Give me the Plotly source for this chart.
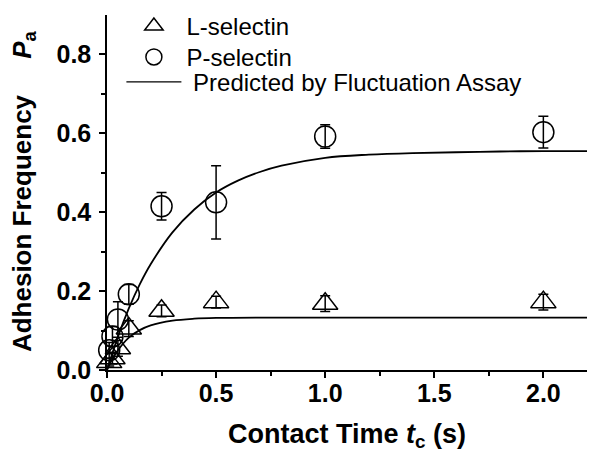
import plotly.graph_objects as go

t_L = [0.01, 0.025, 0.05, 0.1, 0.25, 0.5, 1.0, 2.0]
pa_L = [0.02, 0.03, 0.055, 0.105, 0.15, 0.172, 0.168, 0.172]
err_L = [0.01, 0.015, 0.02, 0.02, 0.015, 0.015, 0.02, 0.02]

t_P = [0.01, 0.025, 0.05, 0.1, 0.25, 0.5, 1.0, 2.0]
pa_P = [0.05, 0.085, 0.128, 0.192, 0.415, 0.425, 0.592, 0.603]
err_P = [0.02, 0.025, 0.045, 0.025, 0.035, 0.093, 0.03, 0.04]

# Predicted curves
t_fitP = [0, 0.05, 0.1, 0.15, 0.2, 0.3, 0.4, 0.5, 0.6, 0.7, 0.8, 1.0, 1.2, 1.4, 1.6, 1.8, 2.0, 2.2]
pa_fitP = [0, 0.084, 0.156, 0.217, 0.268, 0.349, 0.407, 0.450, 0.480, 0.502, 0.518, 0.538, 0.546, 0.550, 0.552, 0.554, 0.555, 0.555]
t_fitL = [0, 0.02, 0.05, 0.1, 0.15, 0.2, 0.3, 0.4, 0.5, 0.7, 1.0, 1.5, 2.0, 2.2]
pa_fitL = [0, 0.023, 0.050, 0.082, 0.101, 0.113, 0.125, 0.130, 0.132, 0.133, 0.133, 0.133, 0.133, 0.133]

x_ticks = [0.0, 0.5, 1.0, 1.5, 2.0]
y_ticks = [0.0, 0.2, 0.4, 0.6, 0.8]

FONT = "Arial, 'Liberation Sans', sans-serif"

fig = go.Figure()

fig.add_trace(go.Scatter(
    x=t_L, y=pa_L, mode="markers", name="L-selectin", legend="legend",
    marker=dict(symbol="triangle-up-open", size=22, color="black", line=dict(width=1.5, color="black")),
    error_y=dict(type="data", array=err_L, color="black", thickness=1.5, width=5),
    cliponaxis=False,
))
fig.add_trace(go.Scatter(
    x=t_P, y=pa_P, mode="markers", name="P-selectin", legend="legend2",
    marker=dict(symbol="circle-open", size=21, color="black", line=dict(width=1.5, color="black")),
    error_y=dict(type="data", array=err_P, color="black", thickness=1.5, width=5),
    cliponaxis=False,
))
fig.add_trace(go.Scatter(
    x=t_fitP, y=pa_fitP, mode="lines", showlegend=False,
    line=dict(color="black", width=1.8, shape="spline"),
))
fig.add_trace(go.Scatter(
    x=t_fitL, y=pa_fitL, mode="lines", showlegend=False,
    line=dict(color="black", width=1.8, shape="spline"),
))
# legend entry for the predicted curves
fig.add_trace(go.Scatter(
    x=[None], y=[None], mode="lines", name="\u00a0Predicted by Fluctuation Assay", legend="legend3",
    line=dict(color="black", width=1.3),
))

axis_common = dict(
    showline=True, linecolor="black", linewidth=1.5,
    ticks="outside", ticklen=6, tickwidth=1.5, tickcolor="black",
    showgrid=False, zeroline=False, mirror=False,
    tickfont=dict(family=FONT, size=25, color="black", weight="bold"),
    automargin=False,
)

fig.update_xaxes(
    range=[0, 2.2], tickvals=x_ticks, ticktext=[f"{v:.1f}" for v in x_ticks],
    minor=dict(tickvals=[0.25, 0.75, 1.25, 1.75], ticklen=4, ticks="outside", tickcolor="black", tickwidth=1.5),
    title=dict(text="Contact Time <i>t</i><sub>c</sub> (s)", font=dict(family=FONT, size=27, color="black", weight="bold"), standoff=18),
    ticklabelstandoff=-6,
    **axis_common,
)
fig.update_yaxes(
    range=[0, 0.9], tickvals=y_ticks, ticktext=[f"{v:.1f}" for v in y_ticks],
    minor=dict(tickvals=[0.1, 0.3, 0.5, 0.7], ticklen=4, ticks="outside", tickcolor="black", tickwidth=1.5),
    ticklabelstandoff=3,
    **axis_common,
)

fig.add_annotation(
    text="Adhesion Frequency" + "\u00a0" * 5 + "<i>P</i><sub>a</sub>",
    xref="paper", yref="paper", x=-0.175, y=0.504, xanchor="center", yanchor="middle",
    textangle=-90, showarrow=False,
    font=dict(family=FONT, size=26, color="black", weight="bold"),
)

leg_common = dict(
    x=0.03, xanchor="left", yanchor="top",
    bgcolor="rgba(0,0,0,0)", borderwidth=0,
    font=dict(family=FONT, size=24, color="black"),
    itemsizing="trace", itemwidth=55,
)

# page body has an 8px margin; figure sized so the plot area lands where the reference has it
fig.update_layout(
    width=592, height=453,
    margin=dict(l=99, r=13, t=7, b=91, autoexpand=False),
    paper_bgcolor="white", plot_bgcolor="white",
    showlegend=True,
    legend=dict(y=1.031, **leg_common),
    legend2=dict(y=0.944, **leg_common),
    legend3=dict(y=0.874, **leg_common),
)

fig.write_html("out.html")
